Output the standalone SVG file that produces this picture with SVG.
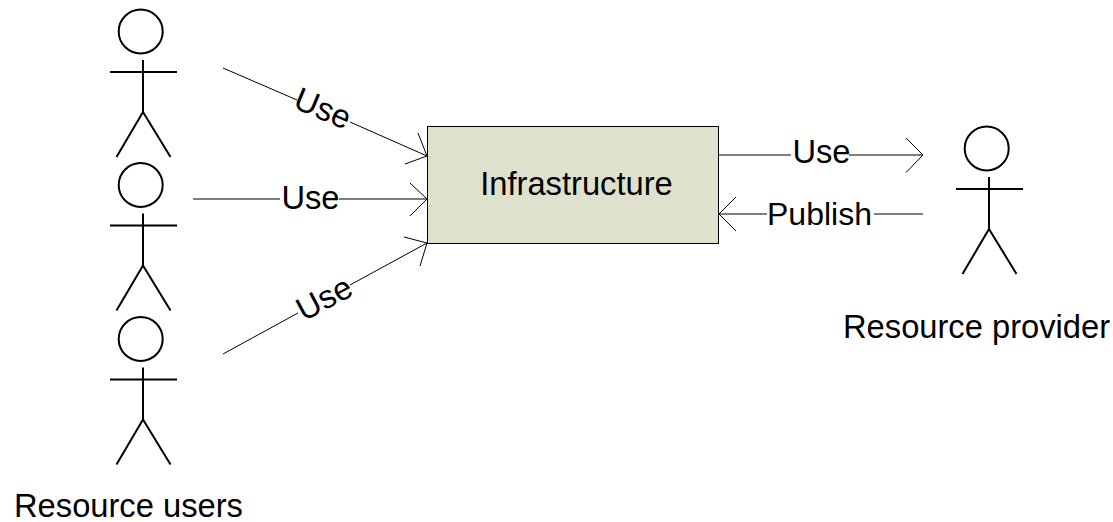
<svg xmlns="http://www.w3.org/2000/svg" width="1113" height="522" viewBox="0 0 1113 522">
<style>
.l{stroke:#000;stroke-width:1;fill:none}
.b{stroke:#000;stroke-width:2;fill:none}
text{font-family:"Liberation Sans",Arial,sans-serif;font-size:32.700px;fill:#000}
.m{text-anchor:middle}
</style>
<defs>
<g id="actor">
<circle class="b" cx="-2.800" cy="-40.500" r="22"/>
<path class="b" d="M-0.500-12V40M-33.500 0H33.500M-0.500 40L-27 85M-0.500 40L27 85"/>
</g>
</defs>
<rect width="1113" height="522" fill="#fff"/>
<g id="infrastructure">
<rect x="427.500" y="126.500" width="291" height="117" fill="#dee2cc" stroke="#000"/>
<text class="m" x="576.500" y="195">Infrastructure</text>
</g>
<g id="connectors">
<path class="l" d="M223 68L297 100M350 122L427 156M418 133L427 156L405 164"/>
<path class="l" d="M193 199H280M339 199H427M410 183L427 199L410 216"/>
<path class="l" d="M223 354L298 313M350 285L427 243M404 237L427 243L420 266"/>
<path class="l" d="M719 155H791M849 155H923M906 138L923 155L906 172.500"/>
<path class="l" d="M923 214H874M767 214H719M736 197L719 214L736 231"/>
<text class="m" transform="translate(318.500 118.600) rotate(23)">Use</text>
<text class="m" x="310.500" y="209">Use</text>
<text class="m" transform="translate(329.400 308) rotate(-28)">Use</text>
<text class="m" x="821.500" y="163">Use</text>
<text class="m" x="819.500" y="225" style="font-size:32px">Publish</text>
</g>
<g id="user1"><use href="#actor" transform="translate(143.500 72)"/></g>
<g id="user2"><use href="#actor" transform="translate(143.500 225.500)"/></g>
<g id="user3"><use href="#actor" transform="translate(143.500 379.500)"/></g>
<g id="provider"><use href="#actor" transform="translate(989.500 189)"/></g>
<g id="users-label"><text x="14" y="517">Resource users</text></g>
<g id="provider-label"><text x="843" y="337.500">Resource provider</text></g>
</svg>
